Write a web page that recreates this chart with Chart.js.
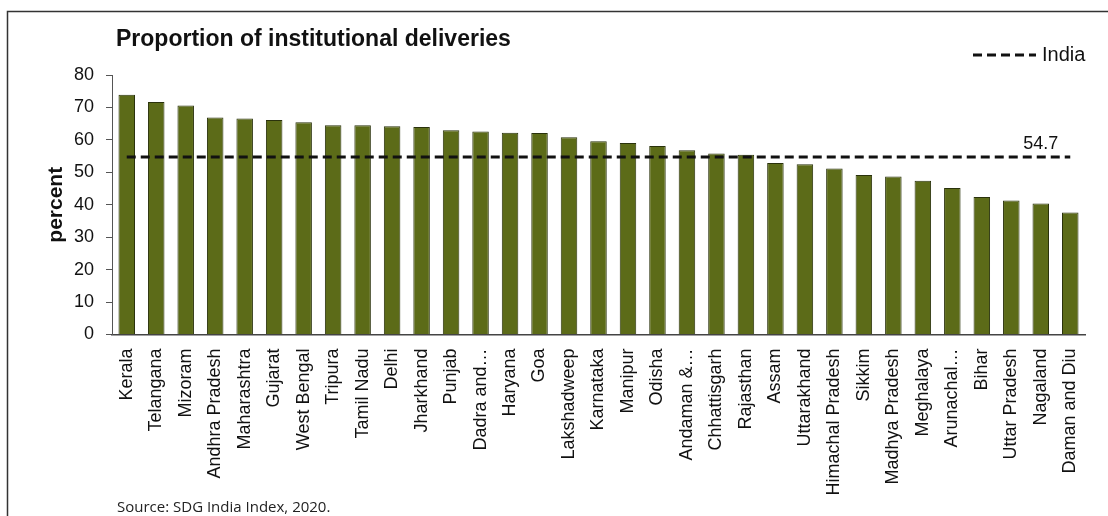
<!DOCTYPE html>
<html>
<head>
<meta charset="utf-8">
<script src="https://cdn.jsdelivr.net/npm/chart.js@4.4.1/dist/chart.umd.min.js"></script>
<style>
  html, body { margin: 0; padding: 0; background: #ffffff; }
  #wrap { position: relative; width: 1108px; height: 516px; overflow: hidden; }
  canvas { display: block; }
</style>
</head>
<body>
<div id="wrap"><canvas id="c" width="1108" height="516"></canvas></div>
<script>
const states = ["Kerala","Telangana","Mizoram","Andhra Pradesh","Maharashtra","Gujarat","West Bengal","Tripura","Tamil Nadu","Delhi","Jharkhand","Punjab","Dadra and…","Haryana","Goa","Lakshadweep","Karnataka","Manipur","Odisha","Andaman &…","Chhattisgarh","Rajasthan","Assam","Uttarakhand","Himachal Pradesh","Sikkim","Madhya Pradesh","Meghalaya","Arunachal…","Bihar","Uttar Pradesh","Nagaland","Daman and Diu"];
const deliveries = [73.9,71.7,70.6,66.9,66.6,66.1,65.4,64.5,64.5,64.2,64.0,63.0,62.6,62.2,62.1,60.8,59.6,59.0,58.1,56.8,55.8,55.4,52.9,52.5,51.2,49.2,48.7,47.4,45.2,42.4,41.3,40.4,37.6];
const indiaValue = 54.7;
const indiaLine = states.map(() => indiaValue);
const yTicks = [0,10,20,30,40,50,60,70,80];
const titleText = "Proportion of institutional deliveries";
const yTitle = "percent";
const legendLabel = "India";
const sourceText = "Source: SDG India Index, 2020.";
const indiaLabelIndex = 31;

const decor = {
  id: 'decor',
  beforeDraw(chart) {
    const ctx = chart.ctx;
    ctx.save();
    ctx.fillStyle = '#ffffff';
    ctx.fillRect(0, 0, chart.width, chart.height);
    ctx.strokeStyle = '#333333';
    ctx.lineWidth = 1.5;
    ctx.beginPath();
    ctx.moveTo(7.5, 516);
    ctx.lineTo(7.5, 11.5);
    ctx.lineTo(1108, 11.5);
    ctx.stroke();
    ctx.restore();
  },
  afterDraw(chart) {
    const ctx = chart.ctx;
    ctx.save();
    // title
    ctx.fillStyle = '#111111';
    ctx.font = 'bold 23px "Liberation Sans", Arial, sans-serif';
    ctx.textBaseline = 'middle';
    ctx.textAlign = 'left';
    ctx.fillText(titleText, 116, 40);
    // legend
    ctx.strokeStyle = '#111111';
    ctx.lineWidth = 3;
    ctx.setLineDash([9, 5]);
    ctx.beginPath();
    ctx.moveTo(973, 55);
    ctx.lineTo(1036, 55);
    ctx.stroke();
    ctx.setLineDash([]);
    ctx.font = '20px "Liberation Sans", Arial, sans-serif';
    ctx.fillText(legendLabel, 1042, 55);
    // India value label
    const meta = chart.getDatasetMeta(1);
    const pt = meta.data[indiaLabelIndex];
    if (pt) {
      ctx.font = '18px "Liberation Sans", Arial, sans-serif';
      ctx.textAlign = 'center';
      ctx.textBaseline = 'alphabetic';
      ctx.fillText(indiaValue.toFixed(1), pt.x, pt.y - 8);
    }
    // source
    ctx.textAlign = 'left';
    ctx.font = '15px "Open Sans", sans-serif';
    ctx.fillStyle = '#222222';
    ctx.fillText(sourceText, 117, 512);
    ctx.restore();
  }
};

new Chart(document.getElementById('c'), {
  type: 'bar',
  data: {
    labels: states,
    datasets: [
      {
        type: 'bar',
        label: 'Proportion',
        data: deliveries,
        backgroundColor: '#5c6b18',
        borderColor: '#2a320c',
        borderWidth: 1,
        barPercentage: 0.56,
        categoryPercentage: 1.0,
        order: 2
      },
      {
        type: 'line',
        label: legendLabel,
        data: indiaLine,
        borderColor: '#111111',
        borderWidth: 3,
        borderDash: [9, 5],
        pointRadius: 0,
        fill: false,
        order: 1
      }
    ]
  },
  options: {
    responsive: false,
    animation: false,
    devicePixelRatio: 1,
    layout: { padding: { left: 0, top: 75, right: 23, bottom: 0 } },
    plugins: {
      legend: { display: false },
      title: { display: false },
      tooltip: { enabled: false }
    },
    scales: {
      x: {
        grid: { display: false, drawTicks: false },
        border: { display: true, color: '#444444', width: 1.5 },
        ticks: {
          autoSkip: false,
          minRotation: 90,
          maxRotation: 90,
          padding: 14,
          color: '#111111',
          font: { family: '"Liberation Sans", Arial, sans-serif', size: 18 }
        },
        afterFit(scale) { scale.height = 516 - 334.5; }
      },
      y: {
        min: 0,
        max: 80,
        afterBuildTicks(scale) { scale.ticks = yTicks.map(v => ({ value: v })); },
        grid: { display: true, drawOnChartArea: false, drawTicks: true, tickLength: 6, color: '#555555' },
        border: { display: true, color: '#555555', width: 1 },
        ticks: {
          padding: 12,
          color: '#111111',
          font: { family: '"Liberation Sans", Arial, sans-serif', size: 18 }
        },
        title: {
          display: true,
          text: yTitle,
          color: '#111111',
          padding: { top: 44, bottom: 0 },
          font: { family: '"Liberation Sans", Arial, sans-serif', size: 21, weight: 'bold' }
        },
        afterFit(scale) { scale.width = 112; }
      }
    }
  },
  plugins: [decor]
});
</script>
</body>
</html>
